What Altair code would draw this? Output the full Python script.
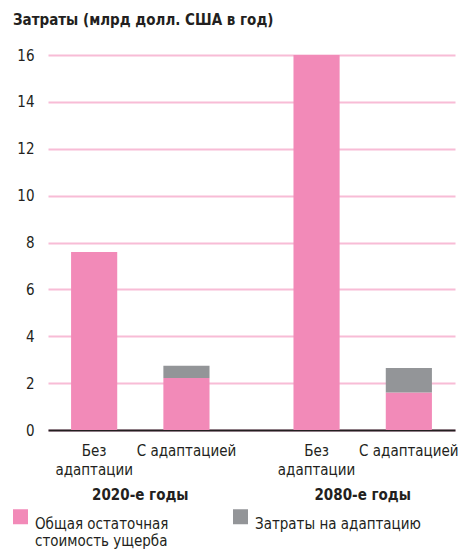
import altair as alt
import pandas as pd

periods = ["2020-е годы", "2080-е годы"]
scenarios = ["Без|адаптации", "С адаптацией"]
components = ["Общая остаточная|стоимость ущерба", "Затраты на адаптацию| "]

# values per (period, scenario): [residual damage, adaptation cost]
damage = [[7.6, 2.22], [16.0, 1.6]]
adapt = [[0.0, 0.52], [0.0, 1.05]]

rows = []
for i, p in enumerate(periods):
    for j, s in enumerate(scenarios):
        rows.append({"period": p, "scenario": s, "component": components[0], "ord": 0, "value": damage[i][j]})
        if adapt[i][j] > 0:
            rows.append({"period": p, "scenario": s, "component": components[1], "ord": 1, "value": adapt[i][j]})
df = pd.DataFrame(rows)

lab = pd.DataFrame([{"period": p, "scenario": s} for p in periods for s in scenarios])

FONT = "DejaVu Sans Condensed"
TXT = "#231f20"
PINK = "#f28ab8"
GRAY = "#939598"
GRID = "#f8bcd6"

W, H = 407, 375

x = alt.X("period:N", sort=periods, title=None,
          scale=alt.Scale(paddingInner=0.17, paddingOuter=0),
          axis=alt.Axis(labelAngle=0, labelFontWeight="bold", labelFontSize=15, labelFont=FONT,
                        labelColor=TXT, labelPadding=57, ticks=False, domainColor=TXT, domainWidth=2,
                        grid=False))
xo = alt.XOffset("scenario:N", sort=scenarios,
                 scale=alt.Scale(paddingInner=0.5, paddingOuter=0.25))

bars = alt.Chart(df).mark_bar().encode(
    x=x,
    xOffset=xo,
    y=alt.Y("value:Q", title=None, stack="zero",
            scale=alt.Scale(domain=[0, 16], nice=False),
            axis=alt.Axis(values=list(range(0, 17, 2)), labelFontSize=15, labelFont=FONT, labelColor=TXT,
                          labelPadding=14, ticks=False, domain=False, gridColor=GRID, gridWidth=2)),
    color=alt.Color("component:N", sort=components,
                    scale=alt.Scale(domain=components, range=[PINK, GRAY]),
                    legend=alt.Legend(title=None, orient="none", legendX=-35, legendY=454,
                                      direction="horizontal", columns=2, columnPadding=64,
                                      symbolType="square", symbolSize=225, symbolStrokeWidth=0,
                                      labelFontSize=15, labelFont=FONT, labelColor=TXT,
                                      labelExpr="split(datum.label, '|')", labelLimit=300,
                                      labelBaseline="top", labelOffset=7, symbolOffset=0, padding=0)),
    order=alt.Order("ord:Q", sort="ascending"),
)

texts = alt.Chart(lab).mark_text(lineBreak="|", fontSize=15, font=FONT, color=TXT,
                                 baseline="alphabetic", lineHeight=19).encode(
    x=alt.X("period:N", sort=periods),
    xOffset=alt.XOffset("scenario:N", sort=scenarios),
    y=alt.value(H + 26),
    text="scenario:N",
)

chart = alt.layer(bars, texts).properties(
    width=W, height=H,
    padding={"left": 5, "top": 5, "right": 0, "bottom": 0},
    title=alt.TitleParams("Затраты (млрд долл. США в год)", anchor="start", frame="bounds",
                          fontSize=15, fontWeight="bold", font=FONT, color=TXT, offset=20),
).configure_view(stroke=None)

chart.save("out.html", embed_options={"renderer": "svg", "actions": False})
